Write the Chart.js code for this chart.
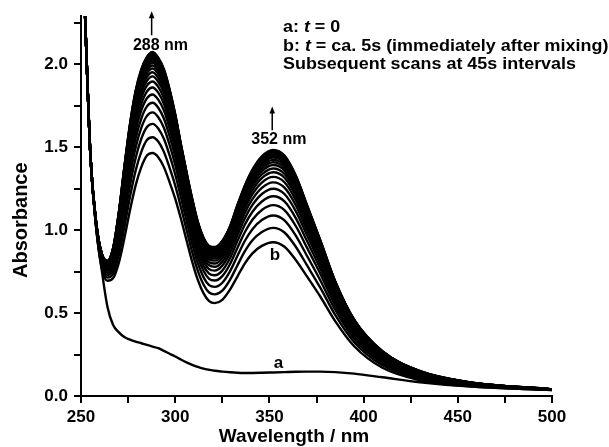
<!doctype html>
<html lang="en">
<head>
<meta charset="utf-8">
<title>Absorbance spectra</title>
<script src="https://cdn.jsdelivr.net/npm/chart.js@4"></script>
<style>
  html, body { margin: 0; padding: 0; background: #fff; }
  #wrap { width: 609px; height: 447px; }
</style>
</head>
<body>
<div id="wrap"><canvas id="spectra" width="609" height="447"></canvas></div>
<script>
// wavelengths (nm) at which every scan is sampled
const wavelengths = [252, 255, 258, 261, 264, 267, 270, 273, 276, 279, 282, 285, 288, 291, 294, 297, 300, 303, 306, 309,
  312, 315, 318, 321, 325, 329, 333, 337, 341, 346, 352, 358, 364, 370, 377, 385, 395, 410, 430, 455, 500];

// curve a : t = 0
const curveA = [2.34, 1.45, 1.02, .76, .54, .43, .385, .355, .34, .328, .318, .308, .298, .288, .272, .255, .238, .22, .203, .188,
  .175, .165, .158, .152, .147, .143, .14, .139, .139, .14, .142, .144, .146, .147, .147, .144, .135, .113, .083, .058, .036];

// curve b : t = ca. 5 s, then the following scans (45 s apart)
const scanB = [2.34, 1.45, 1.02, .77, .695, .71, .80, .95, 1.12, 1.27, 1.38, 1.45, 1.465, 1.44, 1.38, 1.29, 1.19, 1.07, .94, .81,
  .70, .62, .572, .56, .58, .64, .72, .80, .86, .905, .927, .90, .82, .72, .60, .45, .30, .17, .095, .06, .036];
const scan01 = [2.34, 1.45, 1.025, .784, .714, .738, .847, 1.017, 1.201, 1.359, 1.472, 1.543, 1.560, 1.534, 1.472, 1.377, 1.270, 1.140, 1.004, .869,
  .755, .672, .624, .613, .635, .699, .787, .873, .939, .989, 1.014, .986, .900, .787, .653, .487, .325, .186, .104, .064, .037];
const scan02 = [2.34, 1.45, 1.029, .796, .730, .762, .887, 1.074, 1.270, 1.435, 1.551, 1.622, 1.641, 1.613, 1.551, 1.452, 1.337, 1.200, 1.058, .920,
  .801, .717, .668, .658, .683, .750, .844, .936, 1.006, 1.061, 1.088, 1.059, .967, .844, .698, .519, .346, .199, .111, .067, .037];
const scan03 = [2.34, 1.45, 1.032, .806, .743, .782, .921, 1.123, 1.329, 1.499, 1.617, 1.689, 1.710, 1.681, 1.617, 1.515, 1.395, 1.251, 1.105, .963,
  .841, .755, .706, .696, .723, .793, .893, .989, 1.063, 1.122, 1.151, 1.121, 1.025, .893, .737, .546, .364, .210, .117, .070, .038];
const scan04 = [2.34, 1.45, 1.035, .815, .755, .799, .949, 1.164, 1.378, 1.553, 1.673, 1.746, 1.768, 1.738, 1.673, 1.568, 1.443, 1.294, 1.144, .999,
  .874, .786, .738, .728, .756, .829, .934, 1.034, 1.111, 1.173, 1.204, 1.173, 1.073, .934, .769, .569, .380, .220, .122, .072, .038];
const scan05 = [2.34, 1.45, 1.037, .822, .764, .814, .974, 1.199, 1.421, 1.600, 1.722, 1.795, 1.818, 1.787, 1.722, 1.614, 1.485, 1.331, 1.177, 1.030,
  .903, .814, .765, .756, .786, .860, .969, 1.072, 1.152, 1.218, 1.250, 1.218, 1.115, .969, .797, .589, .393, .228, .127, .074, .038];
const scan06 = [2.34, 1.45, 1.039, .828, .773, .827, .994, 1.229, 1.457, 1.639, 1.762, 1.836, 1.860, 1.829, 1.762, 1.653, 1.520, 1.362, 1.206, 1.056,
  .927, .837, .788, .779, .810, .886, .999, 1.105, 1.187, 1.255, 1.288, 1.256, 1.150, .999, .820, .606, .404, .235, .131, .076, .039];
const scan07 = [2.34, 1.45, 1.041, .834, .780, .837, 1.012, 1.254, 1.488, 1.673, 1.797, 1.871, 1.896, 1.864, 1.797, 1.686, 1.551, 1.388, 1.230, 1.079,
  .947, .857, .807, .799, .831, .909, 1.024, 1.132, 1.217, 1.287, 1.321, 1.289, 1.181, 1.024, .840, .620, .413, .241, .134, .078, .039];
const scan08 = [2.34, 1.45, 1.043, .838, .786, .846, 1.027, 1.276, 1.514, 1.701, 1.827, 1.900, 1.927, 1.894, 1.827, 1.714, 1.576, 1.411, 1.250, 1.098,
  .965, .874, .824, .816, .849, .928, 1.046, 1.156, 1.242, 1.314, 1.349, 1.316, 1.206, 1.046, .857, .632, .421, .246, .137, .079, .039];
const scan09 = [2.34, 1.45, 1.044, .842, .791, .854, 1.040, 1.294, 1.535, 1.725, 1.851, 1.925, 1.952, 1.919, 1.851, 1.737, 1.597, 1.430, 1.268, 1.114,
  .980, .888, .838, .830, .864, .944, 1.064, 1.176, 1.263, 1.336, 1.372, 1.339, 1.227, 1.064, .872, .642, .428, .250, .139, .080, .039];
const scan10 = [2.34, 1.45, 1.045, .845, .795, .860, 1.051, 1.309, 1.555, 1.747, 1.873, 1.947, 1.975, 1.942, 1.873, 1.758, 1.616, 1.446, 1.283, 1.128,
  .993, .900, .850, .843, .877, .958, 1.079, 1.193, 1.282, 1.356, 1.393, 1.360, 1.246, 1.079, .884, .651, .434, .254, .141, .081, .039];
const scan11 = [2.34, 1.45, 1.046, .848, .799, .866, 1.060, 1.322, 1.570, 1.764, 1.891, 1.965, 1.993, 1.960, 1.891, 1.775, 1.632, 1.460, 1.295, 1.139,
  1.003, .910, .860, .853, .887, .969, 1.092, 1.207, 1.297, 1.373, 1.409, 1.376, 1.262, 1.092, .894, .658, .439, .257, .143, .082, .039];
const scan12 = [2.34, 1.45, 1.047, .850, .802, .871, 1.068, 1.334, 1.584, 1.778, 1.906, 1.981, 2.009, 1.975, 1.906, 1.790, 1.645, 1.471, 1.306, 1.149,
  1.012, .919, .869, .862, .897, .979, 1.104, 1.219, 1.310, 1.387, 1.424, 1.391, 1.275, 1.104, .903, .664, .443, .259, .144, .082, .040];
const scan13 = [2.34, 1.45, 1.047, .852, .805, .875, 1.075, 1.343, 1.596, 1.792, 1.920, 1.994, 2.023, 1.989, 1.920, 1.802, 1.657, 1.482, 1.315, 1.158,
  1.020, .927, .877, .869, .905, .988, 1.113, 1.230, 1.322, 1.399, 1.437, 1.403, 1.287, 1.113, .911, .670, .446, .262, .145, .083, .040];
const scan14 = [2.34, 1.45, 1.048, .854, .807, .878, 1.080, 1.351, 1.605, 1.802, 1.930, 2.005, 2.034, 2.000, 1.930, 1.812, 1.666, 1.490, 1.323, 1.165,
  1.027, .933, .883, .875, .911, .995, 1.121, 1.239, 1.331, 1.409, 1.447, 1.413, 1.296, 1.121, .917, .674, .449, .263, .146, .083, .040];
const scan15 = [2.34, 1.45, 1.048, .855, .809, .881, 1.085, 1.358, 1.613, 1.811, 1.940, 2.015, 2.044, 2.009, 1.940, 1.821, 1.674, 1.497, 1.329, 1.171,
  1.032, .938, .888, .881, .917, 1.001, 1.128, 1.246, 1.339, 1.417, 1.456, 1.422, 1.304, 1.128, .923, .678, .452, .265, .147, .084, .040];
const scan16 = [2.34, 1.45, 1.049, .857, .811, .883, 1.089, 1.364, 1.621, 1.819, 1.948, 2.023, 2.052, 2.018, 1.948, 1.829, 1.681, 1.503, 1.335, 1.176,
  1.037, .943, .893, .885, .922, 1.006, 1.134, 1.253, 1.346, 1.425, 1.463, 1.430, 1.311, 1.134, .927, .681, .454, .266, .148, .084, .040];
const scan17 = [2.34, 1.45, 1.049, .858, .812, .886, 1.093, 1.369, 1.627, 1.826, 1.955, 2.030, 2.060, 2.025, 1.955, 1.836, 1.687, 1.509, 1.340, 1.181,
  1.041, .947, .897, .890, .926, 1.011, 1.139, 1.258, 1.352, 1.432, 1.470, 1.436, 1.317, 1.139, .932, .684, .456, .268, .149, .084, .040];
const scan18 = [2.34, 1.45, 1.05, .859, .813, .887, 1.096, 1.374, 1.632, 1.831, 1.961, 2.036, 2.066, 2.031, 1.961, 1.842, 1.692, 1.513, 1.344, 1.184,
  1.045, .950, .900, .893, .930, 1.014, 1.144, 1.263, 1.357, 1.437, 1.476, 1.442, 1.322, 1.144, .935, .686, .458, .269, .149, .085, .040];
const scan19 = [2.34, 1.45, 1.05, .859, .814, .889, 1.098, 1.377, 1.636, 1.836, 1.966, 2.041, 2.071, 2.036, 1.966, 1.846, 1.696, 1.517, 1.347, 1.187,
  1.048, .953, .903, .896, .933, 1.017, 1.147, 1.267, 1.361, 1.441, 1.480, 1.446, 1.326, 1.147, .938, .688, .459, .269, .150, .085, .040];
const scan20 = [2.34, 1.45, 1.05, .86, .815, .89, 1.10, 1.38, 1.64, 1.84, 1.97, 2.045, 2.075, 2.04, 1.97, 1.85, 1.70, 1.52, 1.35, 1.19,
  1.05, .955, .905, .898, .935, 1.02, 1.15, 1.27, 1.365, 1.445, 1.484, 1.45, 1.33, 1.15, .94, .69, .46, .27, .15, .085, .04];

const scans = [scanB, scan01, scan02, scan03, scan04, scan05, scan06, scan07, scan08, scan09, scan10,
  scan11, scan12, scan13, scan14, scan15, scan16, scan17, scan18, scan19, scan20];

const FONT = "'Liberation Sans', Arial, Helvetica, sans-serif";

function toPoints(values) {
  return wavelengths.map((w, i) => ({ x: w, y: values[i] }));
}

function lineSet(values) {
  return {
    data: toPoints(values),
    borderColor: '#000',
    borderWidth: 2.4,
    pointRadius: 0,
    fill: false,
    cubicInterpolationMode: 'monotone'
  };
}

const datasets = scans.map(lineSet);
datasets.push(lineSet(curveA));

// text drawn over the plot: arrows, labels, notes
function drawArrow(ctx, x, yFrom, yTo) {
  ctx.save();
  ctx.strokeStyle = '#000';
  ctx.fillStyle = '#000';
  ctx.lineWidth = 1.5;
  ctx.beginPath();
  ctx.moveTo(x, yFrom);
  ctx.lineTo(x, yTo + 5);
  ctx.stroke();
  ctx.beginPath();
  ctx.moveTo(x, yTo);
  ctx.lineTo(x - 2.8, yTo + 7);
  ctx.lineTo(x + 2.8, yTo + 7);
  ctx.closePath();
  ctx.fill();
  ctx.restore();
}

// text a little wider than the font draws it, like the original figure
function drawRich(ctx, parts, x, y, size, stretch) {
  ctx.save();
  ctx.translate(x, y);
  ctx.scale(stretch, 1);
  let cx = 0;
  parts.forEach(p => {
    ctx.font = (p.italic ? 'italic ' : '') + 'bold ' + size + 'px ' + FONT;
    ctx.fillText(p.text, cx, 0);
    cx += ctx.measureText(p.text).width;
  });
  ctx.restore();
}

const notesPlugin = {
  id: 'notes',
  afterDraw(chart) {
    const { ctx, scales: { x, y }, chartArea } = chart;
    ctx.save();
    ctx.fillStyle = '#000';
    ctx.textBaseline = 'middle';

    // peak arrows
    drawArrow(ctx, x.getPixelForValue(287.5), y.getPixelForValue(2.175), y.getPixelForValue(2.32));
    drawArrow(ctx, x.getPixelForValue(351.5), y.getPixelForValue(1.602), y.getPixelForValue(1.745));

    ctx.textAlign = 'center';
    ctx.font = 'bold 16px ' + FONT;
    ctx.fillText('288 nm', x.getPixelForValue(292.2), y.getPixelForValue(2.11));
    ctx.fillText('352 nm', x.getPixelForValue(355), y.getPixelForValue(1.545));
    ctx.font = 'bold 17px ' + FONT;
    ctx.fillText('b', x.getPixelForValue(353), y.getPixelForValue(0.85));
    ctx.fillText('a', x.getPixelForValue(354.8), y.getPixelForValue(0.2));

    // notes, top right
    ctx.textAlign = 'left';
    const nx = x.getPixelForValue(357.2);
    drawRich(ctx, [{ text: 'a: ' }, { text: 't', italic: true }, { text: ' = 0' }], nx, y.getPixelForValue(2.225), 17, 1.055);
    drawRich(ctx, [{ text: 'b: ' }, { text: 't', italic: true }, { text: ' = ca. 5s (immediately after mixing)' }], nx, y.getPixelForValue(2.11), 17, 1.055);
    drawRich(ctx, [{ text: 'Subsequent scans at 45s intervals' }], nx, y.getPixelForValue(1.998), 17, 1.055);

    // axis titles
    ctx.textAlign = 'center';
    ctx.font = 'bold 19px ' + FONT;
    ctx.fillText('Wavelength / nm', chartArea.left + 213, chartArea.bottom + 41);
    ctx.save();
    ctx.translate(21.5, chartArea.top + 204);
    ctx.rotate(-Math.PI / 2);
    ctx.font = 'bold 20px ' + FONT;
    ctx.fillText('Absorbance', 0, 0);
    ctx.restore();

    ctx.restore();
  }
};

const tickFont = { family: FONT, size: 17, weight: 'bold' };

new Chart(document.getElementById('spectra'), {
  type: 'line',
  data: { datasets: datasets },
  options: {
    responsive: false,
    animation: false,
    layout: { padding: { top: 16, right: 57, left: 0, bottom: 0 } },
    plugins: {
      legend: { display: false },
      tooltip: { enabled: false }
    },
    scales: {
      x: {
        type: 'linear',
        min: 250,
        max: 500,
        border: { display: true, color: '#000', width: 2 },
        grid: { drawOnChartArea: false, drawTicks: true, tickLength: 7, color: '#000', lineWidth: 2 },
        ticks: {
          stepSize: 25,
          autoSkip: false,
          maxRotation: 0,
          color: '#000',
          font: tickFont,
          padding: 4,
          callback: v => (v % 50 === 0 ? String(v) : '')
        },
        afterFit: s => { s.height = 51; }
      },
      y: {
        min: 0,
        max: 2.29,
        border: { display: true, color: '#000', width: 2 },
        grid: { drawOnChartArea: false, drawTicks: true, tickLength: 7, color: '#000', lineWidth: 2 },
        ticks: {
          stepSize: 0.25,
          includeBounds: false,
          autoSkip: false,
          color: '#000',
          font: tickFont,
          padding: 6,
          callback: v => (Math.abs(v * 2 - Math.round(v * 2)) < 1e-6 ? v.toFixed(1) : '')
        },
        afterFit: s => { s.width = 81; }
      }
    }
  },
  plugins: [notesPlugin]
});
</script>
</body>
</html>
